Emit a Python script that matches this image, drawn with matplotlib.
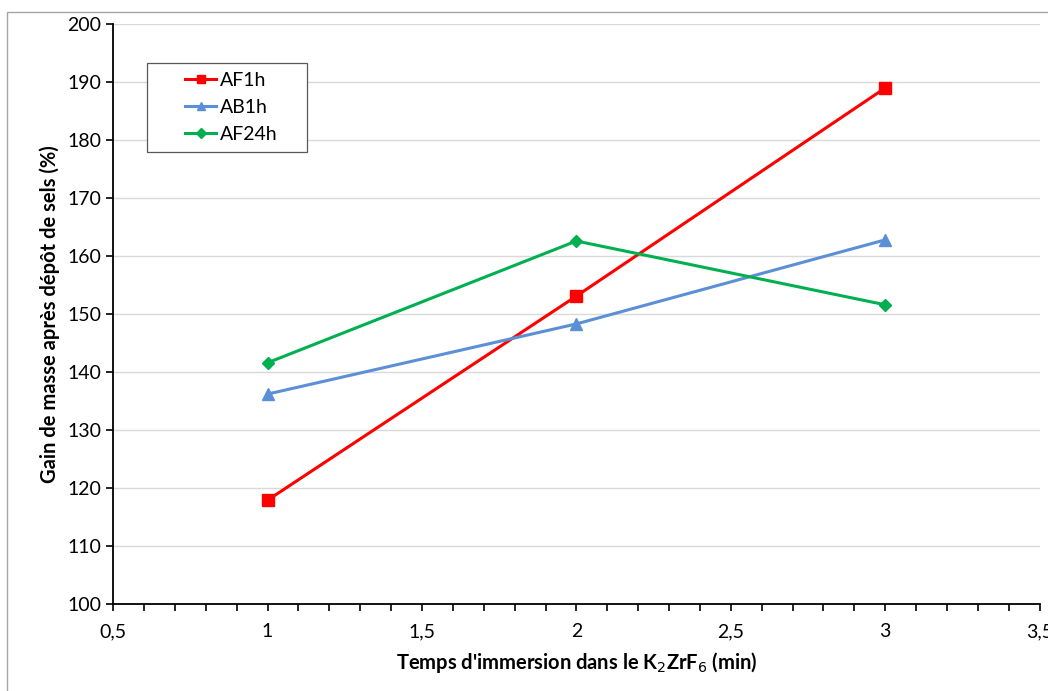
import matplotlib
matplotlib.use('Agg')
import matplotlib.pyplot as plt
from matplotlib.patches import Rectangle
from matplotlib.ticker import MultipleLocator, FuncFormatter

plt.rcParams['font.family'] = ['Lato', 'DejaVu Sans']

temps = [1, 2, 3]
af1h = [117.9, 153.1, 189.0]
ab1h = [136.2, 148.3, 162.8]
af24h = [141.6, 162.6, 151.6]

fig = plt.figure(figsize=(10.48, 6.91), dpi=100)
ax = fig.add_axes([0.108, 0.126, 0.884, 0.839])

ax.plot(temps, af1h, color='#ff0000', lw=2.2, marker='s', ms=8, label='AF1h')
ax.plot(temps, ab1h, color='#5b8fd6', lw=2.2, marker='^', ms=8, label='AB1h')
ax.plot(temps, af24h, color='#00b050', lw=2.2, marker='D', ms=6, label='AF24h')

ax.set_xlim(0.5, 3.5)
ax.set_ylim(100, 200)
ax.xaxis.set_major_locator(MultipleLocator(0.5))
ax.xaxis.set_minor_locator(MultipleLocator(0.1))
ax.yaxis.set_major_locator(MultipleLocator(10))
fmt = FuncFormatter(lambda v, p: ('%g' % v).replace('.', ','))
ax.xaxis.set_major_formatter(fmt)

ax.grid(axis='y', color='#d9d9d9', lw=1)
ax.set_axisbelow(True)
for s in ['top', 'right']:
    ax.spines[s].set_visible(False)
for s in ['left', 'bottom']:
    ax.spines[s].set_linewidth(1.3)
ax.tick_params(which='both', direction='out', length=5, width=1.2, labelsize=14)
ax.tick_params(axis='x', pad=9)

ax.set_xlabel("Temps d'immersion dans le K$_2$ZrF$_6$ (min)", fontsize=14.5, fontweight='bold', labelpad=7)
ax.set_ylabel("Gain de masse après dépôt de sels (%)", fontsize=14.5, fontweight='bold', labelpad=5)

# legend box drawn separately, Excel style with wide padding
ax.add_patch(Rectangle((0.0367, 0.7793), 0.1726, 0.1535, transform=ax.transAxes,
                       fill=True, fc='white', ec='#595959', lw=0.9, zorder=5))
leg = ax.legend(loc='upper left', bbox_to_anchor=(0.0777, 0.917), fontsize=14,
                frameon=False, borderpad=0, borderaxespad=0, markerscale=0.8,
                handlelength=1.6, handletextpad=0.2, labelspacing=0.5)
leg.set_zorder(6)

fig.add_artist(Rectangle((7 / 1048, -0.1), 1.2, 1.1 - 12 / 691, transform=fig.transFigure,
                         fill=False, ec='#a6a6a6', lw=1))

fig.savefig('out.png', dpi=100)
